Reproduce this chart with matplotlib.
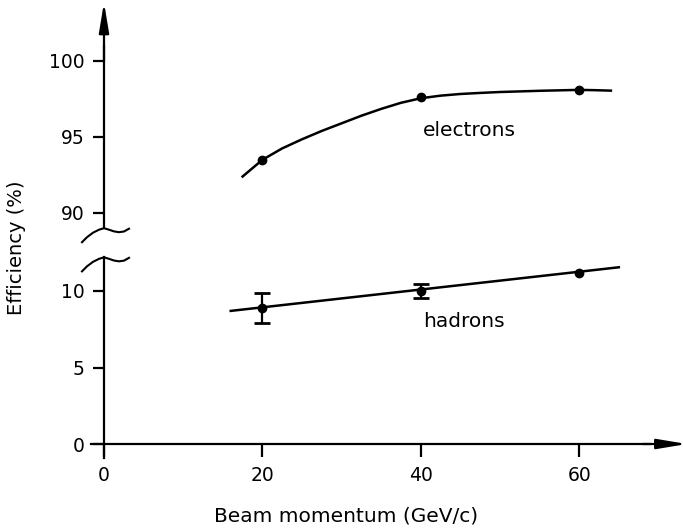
import matplotlib
matplotlib.use("Agg")
import matplotlib.pyplot as plt
from matplotlib.transforms import ScaledTranslation

# measured points, beam momentum in GeV/c
momentum = [20, 40, 60]
electron_eff = [93.5, 97.6, 98.1]
hadron_eff = [8.9, 10.0, 11.2]
hadron_err = [1.0, 0.45, 0.0]

# drawn curves
electron_curve_x = [17.5, 20, 22.5, 25, 27.5, 30, 32.5, 35, 37.5, 40, 42.5, 45, 47.5,
                    50, 52.5, 55, 57.5, 60, 62, 64]
electron_curve_y = [92.4, 93.5, 94.25, 94.85, 95.4, 95.9, 96.4, 96.85, 97.25, 97.55,
                     97.72, 97.83, 97.9, 97.96, 98.0, 98.04, 98.07, 98.1, 98.08, 98.05]
hadron_line_x = [16, 65]
hadron_line_y = [8.7, 11.55]

x_ticks = [0, 20, 40, 60]
lower_ticks = [0, 5, 10]
upper_ticks = [90, 95, 100]

W, H = 683, 532
X0, XS = 104, 7.92          # pixel of x=0, pixels per GeV/c
XLIM = (-3, 73.5)


def place(ylim, ref_px, ref_val, ys):
    # axes rect (figure fraction) so that ref_val sits at pixel row ref_px
    left = X0 + XLIM[0] * XS
    right = X0 + XLIM[1] * XS
    top = ref_px - (ylim[1] - ref_val) * ys
    bottom = ref_px + (ref_val - ylim[0]) * ys
    return [left / W, 1 - bottom / H, (right - left) / W, (bottom - top) / H]


fig = plt.figure(figsize=(W / 100, H / 100), dpi=100)
lo_lim = (-1.5, 12.6)
hi_lim = (88.7, 104)
ax_lo = fig.add_axes(place(lo_lim, 444, 0, 15.3))
ax_hi = fig.add_axes(place(hi_lim, 213, 90, 15.2))

for ax, ylim in ((ax_lo, lo_lim), (ax_hi, hi_lim)):
    ax.set_xlim(*XLIM)
    ax.set_ylim(*ylim)
    ax.patch.set_visible(False)
    ax.spines["top"].set_visible(False)
    ax.spines["right"].set_visible(False)
    ax.spines["left"].set_position(("data", 0))
    ax.spines["left"].set_linewidth(1.6)
    ax.tick_params(axis="y", direction="out", length=8, width=1.6, pad=6, labelsize=13.5)

ax_lo.spines["bottom"].set_position(("data", 0))
ax_lo.spines["bottom"].set_linewidth(1.6)
ax_lo.spines["bottom"].set_bounds(-1.6, 69)
ax_lo.spines["left"].set_bounds(-0.9, 12.2)
ax_lo.set_xticks(x_ticks)
ax_lo.tick_params(axis="x", direction="out", length=9, width=1.6, pad=7, labelsize=13.5)
ax_lo.set_yticks(lower_ticks)

ax_hi.spines["bottom"].set_visible(False)
ax_hi.spines["left"].set_bounds(89.0, 101)
ax_hi.tick_params(axis="x", bottom=False, labelbottom=False)
ax_hi.set_yticks(upper_ticks)

# arrow heads on the axes
head = dict(arrowstyle="-|>,head_length=1.8,head_width=0.3", color="k", lw=1.6,
            shrinkA=0, shrinkB=0)
ax_lo.annotate("", xy=(73.6, 0), xytext=(68, 0), arrowprops=head, annotation_clip=False)
ax_hi.annotate("", xy=(0, 103.85), xytext=(0, 100), arrowprops=head, annotation_clip=False)

# axis break marks, shape in pixels around the spine end
wave_dx = [-22, -17, -11, -5, 0, 5, 10, 15, 20, 25]
wave_dy = [-14, -9, -4.5, -1.5, 0, -1.5, -3.2, -4, -3.3, -0.5]
for ax, yb in ((ax_hi, 89.0), (ax_lo, 12.2)):
    tr = ScaledTranslation(0, yb, ax.transData)
    ax.plot(wave_dx, wave_dy, color="k", lw=1.5, transform=tr, clip_on=False)

# electrons
ax_hi.plot(electron_curve_x, electron_curve_y, color="k", lw=1.8)
ax_hi.plot(momentum, electron_eff, "o", color="k", ms=6)
ax_hi.text(40.3, 95.45, "electrons", fontsize=14.5, va="center")

# hadrons
ax_lo.plot(hadron_line_x, hadron_line_y, color="k", lw=1.8)
ax_lo.plot(momentum, hadron_eff, "o", color="k", ms=6)
err_x = [m for m, e in zip(momentum, hadron_err) if e > 0]
err_y = [v for v, e in zip(hadron_eff, hadron_err) if e > 0]
err_e = [e for e in hadron_err if e > 0]
ax_lo.errorbar(err_x, err_y, yerr=err_e, fmt="none", ecolor="k", elinewidth=1.6,
               capsize=5.5, capthick=2)
ax_lo.text(40.3, 8.0, "hadrons", fontsize=14.5, va="center")

fig.text(17 / W, 1 - 248 / H, "Efficiency (%)", rotation=90, ha="center", va="center",
         fontsize=14)
fig.text(346 / W, 1 - 516 / H, "Beam momentum (GeV/c)", ha="center", va="center",
         fontsize=14.5)

fig.savefig("out.png", dpi=100)
